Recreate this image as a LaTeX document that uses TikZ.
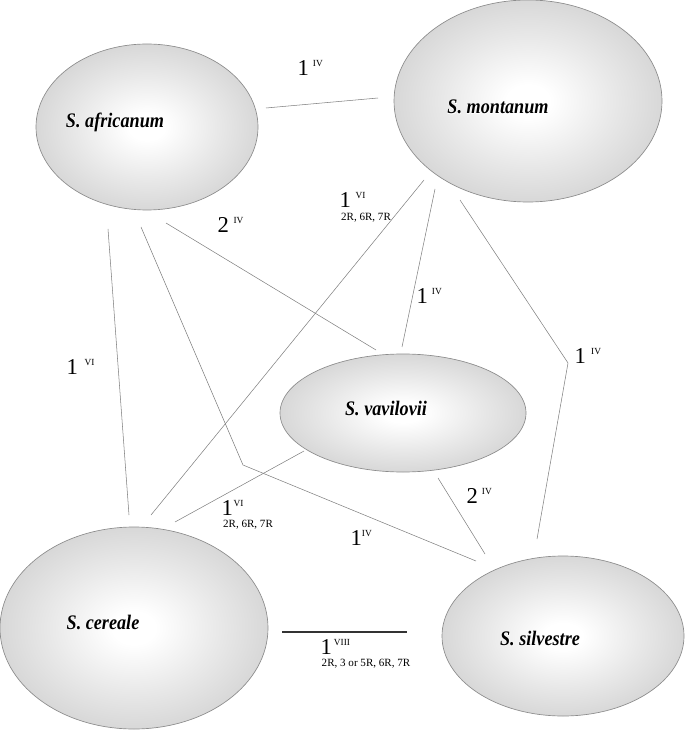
\documentclass[tikz,border=0pt]{standalone}
\usepackage{fontspec}
\setmainfont{Liberation Serif}
\newfontfamily\glowfam[FakeBold=5]{Liberation Serif}
\usetikzlibrary{shapes.geometric}
\pgfdeclareradialshading{sball}{\pgfpoint{0bp}{0bp}}{color(0bp)=(white); color(4bp)=(white); color(16bp)=(black!9); color(30bp)=(black!19); color(44bp)=(black!27); color(50bp)=(black!34); color(75bp)=(black!34)}
\newcommand\lab[3]{#1\hspace{#3}\raisebox{7pt}{\fontsize{7}{7}\selectfont #2}}
\tikzset{
  species/.style={ellipse, draw=black!45, line width=0.5pt, shading=sball, inner sep=0pt},
  spname/.style={font=\fontsize{15.5}{15.5}\selectfont\bfseries\itshape, inner sep=0pt},
  spglow/.style={font=\glowfam\fontsize{15.5}{15.5}\selectfont\bfseries\itshape, inner sep=0pt, text=white},
  num/.style={anchor=base west, inner sep=0pt, font=\fontsize{17}{17}\selectfont},
  chrom/.style={inner sep=0pt, font=\fontsize{8.3}{9}\selectfont},
  link/.style={draw=black!50, line width=0.4pt},
  strong/.style={draw=black!80, line width=0.8pt}
}
\newcommand\sq[1]{\scalebox{0.88}[1]{#1}}
\begin{document}
\begin{tikzpicture}[x=0.75pt, y=-0.75pt]
\useasboundingbox (0,0) rectangle (685,730);
% species ellipses
\node[species, minimum width=166.5pt, minimum height=124.5pt] (afr) at (147,127) {};
\node[species, minimum width=201pt, minimum height=151.5pt] (mon) at (528,101) {};
\node[species, minimum width=184.5pt, minimum height=88.5pt] (vav) at (403,413) {};
\node[species, minimum width=201pt, minimum height=151.5pt] (cer) at (134,628) {};
\node[species, minimum width=181.5pt, minimum height=120pt] (sil) at (563,636) {};
% species names: white halo, then black text
\node[spglow] (gafr) at (115,122) {\sq{S. africanum}};
\node[spglow] (gmon) at (498,107) {\sq{S. montanum}};
\node[spglow] (gvav) at (386,408) {\sq{S. vavilovii}};
\node[spglow] (gcer) at (103,622) {\sq{S. cereale}};
\node[spglow] (gsil) at (540,638) {\sq{S. silvestre}};
\node[spname] (tafr) at (115,122) {\sq{S. africanum}};
\node[spname] (tmon) at (498,107) {\sq{S. montanum}};
\node[spname] (tvav) at (386,408) {\sq{S. vavilovii}};
\node[spname] (tcer) at (103,622) {\sq{S. cereale}};
\node[spname] (tsil) at (540,638) {\sq{S. silvestre}};
% connector end points
\coordinate (am1) at (266,108); \coordinate (am2) at (378,98);
\coordinate (av1) at (166,223); \coordinate (av2) at (376,350);
\coordinate (ac1) at (108,229); \coordinate (ac2) at (129,515);
\coordinate (as1) at (141,227); \coordinate (asb) at (243,465); \coordinate (as2) at (476,561);
\coordinate (mc1) at (424,180); \coordinate (mc2) at (151,515);
\coordinate (mv1) at (435,189); \coordinate (mv2) at (402,347);
\coordinate (ms1) at (460,200); \coordinate (msb) at (568,363); \coordinate (ms2) at (537,539);
\coordinate (vc1) at (304,451); \coordinate (vc2) at (175,522);
\coordinate (vs1) at (438,478); \coordinate (vs2) at (485,554);
\coordinate (cs1) at (282,632); \coordinate (cs2) at (407,632);
% connectors
\draw[link] (am1) -- (am2);
\draw[link] (av1) -- (av2);
\draw[link] (ac1) -- (ac2);
\draw[link] (as1) -- (asb) -- (as2);
\draw[link] (mc1) -- (mc2);
\draw[link] (mv1) -- (mv2);
\draw[link] (ms1) -- (msb) -- (ms2);
\draw[link] (vc1) -- (vc2);
\draw[link] (vs1) -- (vs2);
\draw[strong] (cs1) -- (cs2);
% labels
\node[num] (l1) at (297.3,75.5) {\lab{1}{IV}{3pt}};
\node[num] (l2) at (217.3,232.5) {\lab{2}{IV}{3.5pt}};
\node[num] (l3) at (339.3,207.5) {\lab{1}{VI}{3.5pt}};
\node[chrom] (c3) at (366,218) {2R, 6R, 7R};
\node[num] (l4) at (416.3,303.5) {\lab{1}{IV}{3pt}};
\node[num] (l5) at (574.3,363.5) {\lab{1}{IV}{4pt}};
\node[num] (l6) at (66.3,374.5) {\lab{1}{VI}{5pt}};
\node[num] (l7) at (221.3,515.5) {\lab{1}{VI}{0.5pt}};
\node[chrom] (c7) at (248,525) {2R, 6R, 7R};
\node[num] (l8) at (350.3,545.5) {\lab{1}{IV}{0pt}};
\node[num] (l9) at (466.3,503.5) {\lab{2}{IV}{3pt}};
\node[num] (l10) at (320.3,654.5) {\lab{1}{VIII}{1.5pt}};
\node[chrom] (c10) at (366,664) {2R, 3 or 5R, 6R, 7R};
\end{tikzpicture}
\end{document}
